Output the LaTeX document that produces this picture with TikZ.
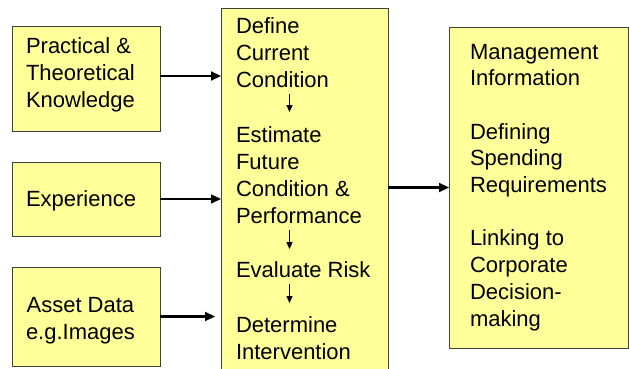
\documentclass[tikz,border=0pt]{standalone}
\usepackage{fontspec}
\setmainfont{Liberation Sans}
\usetikzlibrary{arrows.meta}

\definecolor{boxyellow}{HTML}{FFFF99}
\tikzset{
  box/.style={draw=black!75, fill=boxyellow, line width=0.8pt, inner sep=0pt, outer sep=0pt},
  txt/.style={align=left, anchor=base west, inner sep=0pt, outer sep=0pt,
    font=\fontsize{22}{27}\selectfont},
  flow/.style={-{Triangle[length=10pt,width=9pt]}, line width=2.2pt},
  substep/.style={-{Triangle[length=7pt,width=6pt]}, line width=0.9pt}
}

\begin{document}
\begin{tikzpicture}[x=1pt,y=-1pt]
        \clip (0,0) rectangle (629,369);
        % input boxes
        \node[box, minimum width=148pt, minimum height=105pt] (prac) at (86,78.5) {};
        \node[box, minimum width=148pt, minimum height=74pt] (exp) at (86,199) {};
        \node[box, minimum width=148pt, minimum height=99pt] (asset) at (86,316.5) {};
        % base = baseline of the last line
        \node[txt] (practxt) at (26,107) {Practical \&\\Theoretical\\Knowledge};
        \node[txt] (exptxt) at (26,206) {Experience};
        \node[txt, align=center] (assettxt) at (26,339) {Asset Data\\e.g.Images};
        % process box, runs off the bottom
        \node[box, minimum width=167pt, minimum height=400pt, anchor=north west] (proc) at (221,8) {};
        \node[txt] (def) at (236,87) {Define\\Current\\Condition};
        \node[txt] (est) at (236,223) {Estimate\\Future\\Condition \&\\Performance};
        \node[txt] (eva) at (236,277) {Evaluate Risk};
        \node[txt] (det) at (236,359) {Determine\\Intervention};
        % output box
        \node[box, minimum width=179pt, minimum height=321pt, anchor=north west] (out) at (449,27) {};
        \node[txt, font=\fontsize{22}{26.7}\selectfont] (outtxt) at (470,326)
          {Management\\Information\\[26.7pt]Defining\\Spending\\Requirements\\[26.7pt]Linking to\\Corporate\\Decision-\\making};
        % arrows
        \draw[flow] ([yshift=2.5pt]prac.east) -- ([yshift=2.5pt]prac.east -| proc.west);
        \draw[flow, line width=1.5pt] (exp.east) -- (exp.east -| proc.west);
        \draw[flow, shorten >=6pt] (asset.east) -- (asset.east -| proc.west);
        \draw[flow] (proc.east |- out.west) -- (out.west);
        \draw[substep, shorten <=7pt, shorten >=14pt] (def.south -| 289.5,0) -- (est.north -| 289.5,0);
        \draw[substep, shorten <=7pt, shorten >=12pt] (est.south -| 289.5,0) -- (eva.north -| 289.5,0);
        \draw[substep, shorten <=7pt, shorten >=13pt] (eva.south -| 289.5,0) -- (det.north -| 289.5,0);
      \end{tikzpicture}
\end{document}
